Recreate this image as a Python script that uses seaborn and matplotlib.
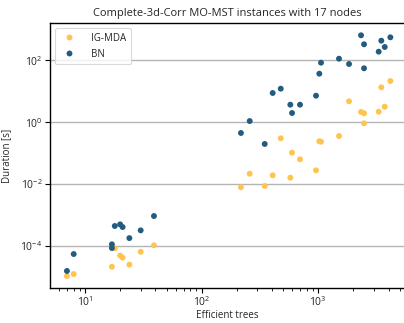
import numpy as np
import pandas as pd
import matplotlib
matplotlib.use("Agg")
import matplotlib.pyplot as plt
import seaborn as sns

# Number of efficient trees per instance (shared by both algorithms)
efficient_trees = [7, 8, 17, 17, 18, 20, 21, 24, 30, 39,
                   217, 258, 347, 406, 476, 575, 595, 696, 955, 1019,
                   1054, 1503, 1832, 2322, 2463, 2463, 3289, 3464, 3706, 4140]

# Run times in seconds
ig_mda_duration = [1.07e-5, 1.24e-5, 2.14e-5, 9.5e-5, 8.4e-5, 4.9e-5, 4.2e-5, 2.5e-5, 6.5e-5, 1.05e-4,
                   0.0079, 0.0217, 0.0087, 0.0192, 0.302, 0.0161, 0.1035, 0.0633, 0.0279, 0.2415,
                   0.234, 0.358, 4.73, 2.14, 1.94, 0.921, 2.18, 13.4, 3.17, 21.4]
bn_duration = [1.56e-5, 5.5e-5, 1.13e-4, 8.6e-5, 4.43e-4, 5.0e-4, 4.1e-4, 1.8e-4, 3.2e-4, 9.3e-4,
               0.448, 1.09, 0.198, 8.78, 12.1, 3.68, 1.98, 3.68, 7.18, 36.9,
               83.6, 112.6, 75.9, 643, 329, 55.2, 190, 430, 269, 553]

algorithms = ["IG-MDA", "BN"]
palette = {"IG-MDA": "#ffc44f", "BN": "#235b81"}

df = pd.concat([
    pd.DataFrame({"trees": efficient_trees, "duration": ig_mda_duration, "algo": algorithms[0]}),
    pd.DataFrame({"trees": efficient_trees, "duration": bn_duration, "algo": algorithms[1]}),
], ignore_index=True)

sns.set_style("white")
plt.rcParams["font.family"] = ["Open Sans", "DejaVu Sans"]
plt.rcParams["mathtext.fontset"] = "cm"

fig = plt.figure(figsize=(4.04, 3.23), dpi=100)
ax = fig.add_axes([50 / 404, 1 - 288 / 323, 1 - 50 / 404, (288 - 23) / 323])

sns.scatterplot(data=df, x="trees", y="duration", hue="algo", hue_order=algorithms,
                palette=palette, s=18, linewidth=0, ax=ax, zorder=3)

ax.set_xscale("log")
ax.set_yscale("log")
ax.set_xlim(10 ** 0.70, 10 ** 3.734)
ax.set_ylim(10 ** -5.357, 10 ** 3.205)
ax.set_yticks([1e-4, 1e-2, 1e0, 1e2])
ax.yaxis.set_minor_locator(matplotlib.ticker.NullLocator())
ax.grid(axis="y", color="#b4b4b4", linewidth=1.0, zorder=0)
ax.grid(axis="x", visible=False)
ax.set_axisbelow(True)

for side in ["left", "bottom", "top"]:
    ax.spines[side].set_color("black")
    ax.spines[side].set_linewidth(1.0)
ax.spines["right"].set_visible(False)

ax.tick_params(axis="both", which="major", direction="out", length=3.5, width=0.8,
               labelsize=7.5, left=True, bottom=True, color="black", pad=2)
ax.tick_params(axis="x", which="minor", direction="out", length=2, width=0.6,
               bottom=True, color="black")
ax.tick_params(axis="x", which="major", pad=1.5)

ax.set_xlabel("Efficient trees", fontsize=7, labelpad=1)
ax.set_ylabel("Duration [s]", fontsize=7, labelpad=6)
ax.set_title("Complete-3d-Corr MO-MST instances with 17 nodes", fontsize=8, pad=5)

leg = ax.legend(loc="upper left", fontsize=7, frameon=True, handletextpad=1.2,
                borderpad=0.5, labelspacing=0.5)
leg.get_frame().set_edgecolor("#d0d0d0")
leg.get_frame().set_linewidth(0.8)

fig.savefig("out.png", dpi=100)
